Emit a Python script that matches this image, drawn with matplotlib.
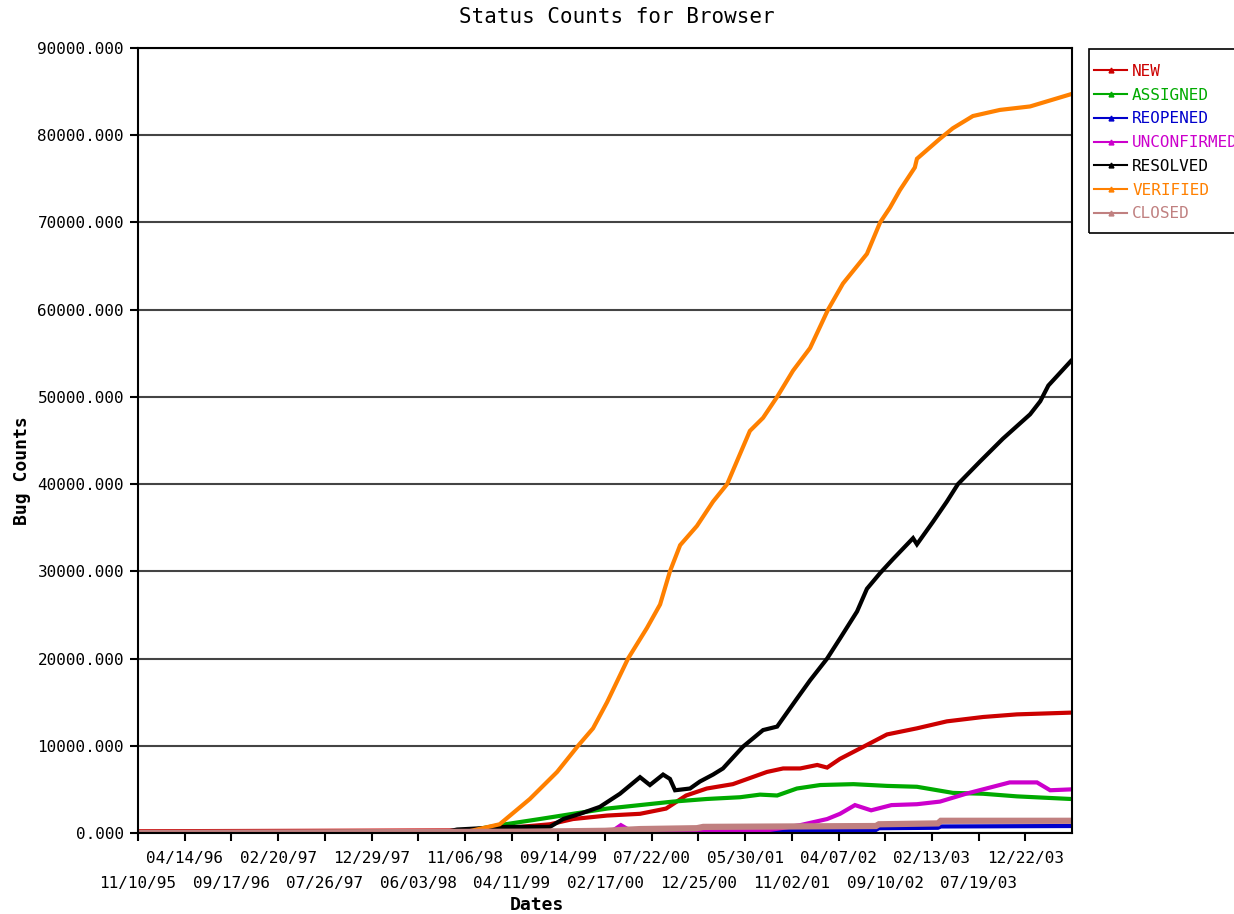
import pandas as pd
import matplotlib
matplotlib.use("Agg")
import matplotlib.pyplot as plt
from matplotlib.lines import Line2D
from matplotlib.patches import Rectangle
from matplotlib.ticker import FormatStrFormatter, MultipleLocator

# ---- data ----
new_dates = ["1995-11-10", "1998-11-06", "1999-05-09", "1999-08-17", "1999-11-02", "2000-02-24",
             "2000-06-13", "2000-09-08", "2000-11-14", "2001-01-22", "2001-04-19", "2001-08-11",
             "2001-10-04", "2001-11-30", "2002-01-26", "2002-02-28", "2002-04-12", "2002-07-11",
             "2002-09-16", "2002-12-25", "2003-04-04", "2003-08-03", "2003-11-24", "2004-05-22"]
new_counts = [200, 300, 700, 1000, 1600, 2000,
              2200, 2800, 4300, 5100, 5600, 7000,
              7400, 7400, 7800, 7500, 8500, 10100,
              11300, 12000, 12800, 13300, 13600, 13800]

assigned_dates = ["1995-11-10", "1998-11-06", "1999-03-02", "1999-07-14", "1999-11-02", "2000-02-24",
                  "2000-06-13", "2000-10-01", "2001-01-22", "2001-05-13", "2001-07-19", "2001-09-14",
                  "2001-11-19", "2002-02-05", "2002-05-27", "2002-09-16", "2002-12-25", "2003-04-24",
                  "2003-08-03", "2003-11-24", "2004-05-22"]
assigned_counts = [0, 200, 900, 1600, 2200, 2800,
                   3200, 3600, 3900, 4100, 4400, 4300,
                   5100, 5500, 5600, 5400, 5300, 4600,
                   4500, 4200, 3900]

reopened_dates = ["1995-11-10", "1997-03-01", "2000-01-01", "2001-01-01", "2001-11-01",
                  "2002-08-10", "2002-08-20", "2003-03-05", "2003-03-15", "2004-05-22"]
reopened_counts = [0, 0, 100, 200, 300,
                   350, 550, 600, 750, 800]

unconfirmed_dates = ["1995-11-10", "2000-02-17", "2000-03-20", "2000-04-10", "2000-04-30", "2000-06-01",
                     "2000-12-30", "2001-08-11", "2001-11-30", "2002-02-28", "2002-04-12", "2002-06-01",
                     "2002-07-25", "2002-10-01", "2002-12-25", "2003-03-12", "2003-06-07", "2003-09-05",
                     "2003-10-31", "2004-01-30", "2004-03-14", "2004-05-22"]
unconfirmed_counts = [0, 100, 400, 900, 500, 200,
                      200, 300, 900, 1600, 2200, 3200,
                      2600, 3200, 3300, 3600, 4500, 5300,
                      5800, 5800, 4900, 5000]

resolved_dates = ["1995-11-10", "1998-09-01", "1998-10-11", "1999-03-27", "1999-08-17", "1999-09-30",
                  "1999-11-26", "2000-01-31", "2000-04-07", "2000-06-13", "2000-07-16", "2000-08-29",
                  "2000-09-21", "2000-10-08", "2000-11-27", "2000-12-30", "2001-02-12", "2001-03-17",
                  "2001-05-23", "2001-07-29", "2001-09-14", "2001-11-19", "2002-01-02", "2002-02-28",
                  "2002-04-12", "2002-06-08", "2002-07-11", "2002-08-24", "2002-10-06", "2002-12-12",
                  "2002-12-25", "2003-02-17", "2003-04-04", "2003-05-11", "2003-07-24", "2003-10-08",
                  "2004-01-07", "2004-02-10", "2004-03-08", "2004-05-22"]
resolved_counts = [0, 100, 400, 700, 700, 1600,
                   2200, 3000, 4500, 6400, 5500, 6700,
                   6200, 4900, 5100, 5900, 6700, 7400,
                   9900, 11800, 12200, 15400, 17500, 20000,
                   22300, 25400, 28000, 29800, 31400, 33800,
                   33100, 35700, 38000, 40000, 42600, 45200,
                   48000, 49500, 51300, 54100]

verified_dates = ["1995-11-10", "1998-11-06", "1998-12-03", "1999-03-02", "1999-06-11", "1999-09-10",
                  "1999-11-19", "2000-01-08", "2000-02-24", "2000-05-04", "2000-07-06", "2000-08-19",
                  "2000-09-21", "2000-10-25", "2000-12-20", "2001-02-12", "2001-03-31", "2001-06-15",
                  "2001-07-29", "2001-09-14", "2001-11-06", "2002-01-02", "2002-03-03", "2002-04-22",
                  "2002-07-11", "2002-08-24", "2002-09-26", "2002-10-29", "2002-12-18", "2002-12-25",
                  "2003-03-12", "2003-04-24", "2003-06-30", "2003-09-28", "2004-01-07", "2004-05-22"]
verified_counts = [0, 100, 300, 1000, 3900, 7000,
                   10000, 12000, 15000, 20000, 23500, 26200,
                   30000, 33000, 35200, 38000, 40000, 46100,
                   47600, 50000, 53000, 55600, 60000, 63000,
                   66400, 70000, 71700, 73700, 76300, 77300,
                   79600, 80800, 82200, 82900, 83300, 84700]

closed_dates = ["1995-11-10", "1999-06-01", "2000-02-17", "2000-06-13", "2000-12-20", "2001-01-10",
                "2002-08-10", "2002-08-20", "2003-03-05", "2003-03-15", "2004-05-22"]
closed_counts = [0, 150, 250, 450, 550, 700,
                 800, 1000, 1100, 1400, 1400]

status_names = ["NEW", "ASSIGNED", "REOPENED", "UNCONFIRMED", "RESOLVED", "VERIFIED", "CLOSED"]
status_colors = ["#cc0000", "#00aa00", "#0000cc", "#cc00cc", "#000000", "#ff8000", "#c08080"]

tick_labels = ["11/10/95", "04/14/96", "09/17/96", "02/20/97", "07/26/97", "12/29/97", "06/03/98",
               "11/06/98", "04/11/99", "09/14/99", "02/17/00", "07/22/00", "12/25/00", "05/30/01",
               "11/02/01", "04/07/02", "09/10/02", "02/13/03", "07/19/03", "12/22/03"]

series = [(new_dates, new_counts), (assigned_dates, assigned_counts),
          (reopened_dates, reopened_counts), (unconfirmed_dates, unconfirmed_counts),
          (resolved_dates, resolved_counts), (verified_dates, verified_counts),
          (closed_dates, closed_counts)]

mono = "DejaVu Sans Mono"
fs = 11.5
W, H = 1234, 914

fig = plt.figure(figsize=(12.34, 9.14), dpi=100)
ax = fig.add_axes([138 / W, 1 - 833 / H, (1072 - 138) / W, (833 - 48) / H])

for (d, c), name, col in zip(series, status_names, status_colors):
    lw = 4.5 if name == "CLOSED" else 3
    ax.plot(pd.to_datetime(d), c, color=col, lw=lw, solid_joinstyle="miter")

ax.set_ylim(0, 90000)
ax.set_xlim(pd.Timestamp("1995-11-10"), pd.Timestamp("2004-05-26"))
ax.yaxis.set_major_locator(MultipleLocator(10000))
ax.yaxis.set_major_formatter(FormatStrFormatter("%.3f"))
ax.grid(axis="y", color="#444444", lw=1.5)
ax.set_axisbelow(True)

# staggered date labels: odd ticks on the upper row, even ticks on the lower row
tick_pos = pd.to_datetime(tick_labels, format="%m/%d/%y")
ax.set_xticks(tick_pos[1::2])
ax.set_xticklabels(tick_labels[1::2])
ax.set_xticks(tick_pos[0::2], minor=True)
ax.set_xticklabels(tick_labels[0::2], minor=True)
ax.tick_params(axis="x", which="major", length=6, width=1.5, pad=7)
ax.tick_params(axis="x", which="minor", length=6, width=1.5, pad=25)
ax.tick_params(axis="y", length=6, width=1.5, pad=4)
for lab in ax.get_xticklabels(which="both") + ax.get_yticklabels():
    lab.set_fontfamily(mono)
    lab.set_fontsize(fs)

for sp in ax.spines.values():
    sp.set_linewidth(1.5)

fig.text(0.5, 1 - 17 / H, "Status Counts for Browser", ha="center", va="center",
         fontfamily=mono, fontsize=15)
fig.text(22 / W, 1 - 471 / H, "Bug Counts", rotation=90, ha="center", va="center",
         fontfamily=mono, fontweight="bold", fontsize=13)
fig.text(537 / W, 1 - 905 / H, "Dates", ha="center", va="center",
         fontfamily=mono, fontweight="bold", fontsize=13)

# legend entries, with a separate frame that runs past the right edge like the original
handles = [Line2D([], [], color=c, lw=1.5, marker="^", markersize=3.5) for c in status_colors]
leg = ax.legend(handles, status_names, loc="upper left",
                bbox_to_anchor=(1089 / W, 1 - 59 / H), bbox_transform=fig.transFigure,
                prop={"family": mono, "size": fs}, labelcolor="linecolor", frameon=False,
                handlelength=2.1, handletextpad=0.3, borderpad=0.3, labelspacing=0.55,
                borderaxespad=0)
fig.add_artist(Rectangle((1089 / W, 1 - 233 / H), 200 / W, 184 / H, transform=fig.transFigure,
                         fill=False, edgecolor="black", lw=1.2, clip_on=False))

fig.savefig("out.png", dpi=100)
